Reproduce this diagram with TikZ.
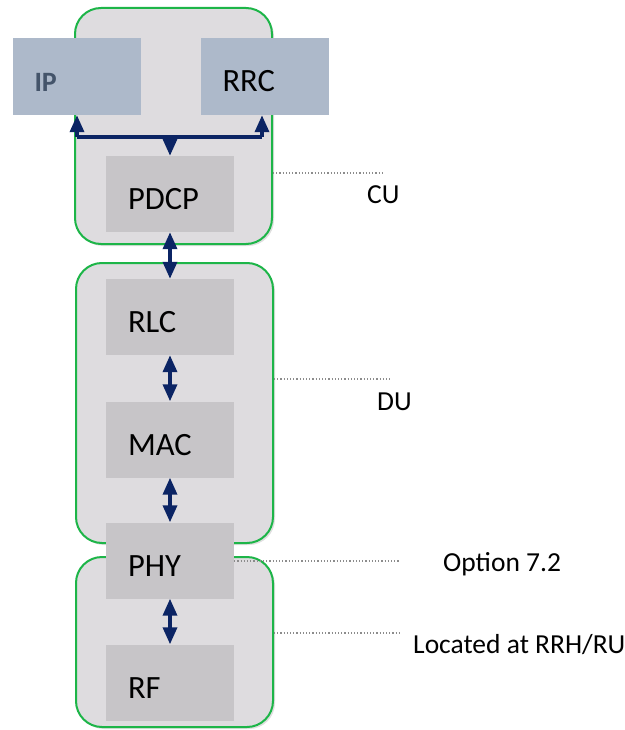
\documentclass[tikz,border=0pt]{standalone}
\usepackage{fontspec}
\setmainfont{Carlito}
\usetikzlibrary{arrows.meta,shadows}
\definecolor{unitfill}{HTML}{DEDCDF}
\definecolor{unitedge}{HTML}{1DB548}
\definecolor{layerfill}{HTML}{C7C5C8}
\definecolor{hostfill}{HTML}{ADB9CA}
\definecolor{hosttext}{HTML}{44546A}
\definecolor{linkcol}{HTML}{0B2464}
\definecolor{tickcol}{HTML}{8C8C8C}
\tikzset{
  unit/.style={draw=unitedge, line width=2pt, fill=unitfill, rounded corners=26pt,
    drop shadow={shadow xshift=2pt, shadow yshift=-2pt, opacity=0.25}},
  layer/.style={fill=layerfill, minimum width=128pt, minimum height=76pt,
    text width=84pt, align=left, inner xsep=22pt, text height=31pt, text depth=0pt,
    font=\fontsize{32.5}{32.5}\selectfont},
  host/.style={layer, fill=hostfill, minimum width=128pt, minimum height=77pt},
  link/.style={draw=linkcol, line width=3.5pt, {Triangle[width=14pt,length=17pt]}-{Triangle[width=14pt,length=17pt]}},
  uplink/.style={draw=linkcol, line width=3.5pt, -{Triangle[width=14pt,length=17pt]}},
  tick/.style={draw=tickcol, line width=1.2pt, dotted},
  tag/.style={anchor=base west, font=\fontsize{27.5}{27.5}\selectfont, inner sep=0pt}
}
\begin{document}
\begin{tikzpicture}[x=1pt,y=-1pt]
\useasboundingbox (0,0) rectangle (624,730);
% split groups
\node[unit, minimum width=197pt, minimum height=236pt] (cu) at (173.5,126) {};
\node[unit, minimum width=197pt, minimum height=280pt] (du) at (174.5,403) {};
\node[unit, minimum width=197pt, minimum height=170pt] (ru) at (174.5,642) {};
% protocol layers
\node[host, text=hosttext, font=\bfseries\fontsize{28}{28}\selectfont] (ip) at (76.5,76.5) {IP};
\node[host] (rrc) at (264.5,76.5) {RRC};
\node[layer] (pdcp) at (170,194) {PDCP};
\node[layer] (rlc) at (170,317) {RLC};
\node[layer] (mac) at (170,439.5) {MAC};
\node[layer] (phy) at (170,560.5) {PHY};
\node[layer] (rf) at (170,682.5) {RF};
% fan-out from PDCP to IP and RRC
\coordinate (bl) at (77,137);
\coordinate (br) at (262,137);
\coordinate (bm) at (170,137);
\draw[draw=linkcol, line width=3.5pt] (bl) -- (br);
\draw[uplink] (bl) -- (bl |- ip.south);
\draw[uplink] (br) -- (br |- rrc.south);
\draw[uplink] (bm) -- (pdcp.north);
% inter-layer links
\draw[link] (pdcp.south) -- (rlc.north);
\draw[link] (rlc.south) -- (mac.north);
\draw[link] (mac.south) -- (phy.north);
\draw[link] (phy.south) -- (rf.north);
% annotations
\coordinate (cuend) at (382,173);
\coordinate (duend) at (390,379);
\coordinate (opend) at (400,561);
\coordinate (ruend) at (400,633);
\draw[tick] (cu.east |- cuend) -- (cuend);
\draw[tick] (du.east |- duend) -- (duend);
\draw[tick] (phy.east |- opend) -- (opend);
\draw[tick] (ru.east |- ruend) -- (ruend);
\node[tag] (cut) at (367,204) {CU};
\node[tag] (dut) at (377,410) {DU};
\node[tag] (opt) at (443,571) {Option 7.2};
\node[tag] (rut) at (413,653) {Located at RRH/RU};
\end{tikzpicture}
\end{document}
